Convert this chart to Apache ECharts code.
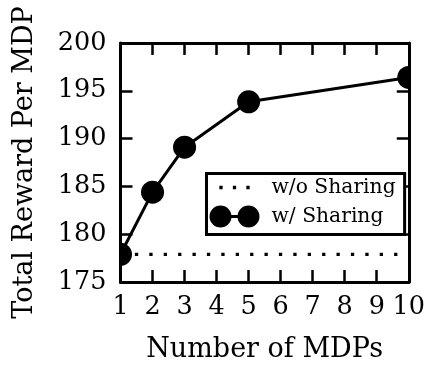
<!DOCTYPE html>
<html>
<head>
<meta charset="utf-8">
<script src="https://cdn.jsdelivr.net/npm/echarts@6/dist/echarts.min.js"></script>
<style>
html,body{margin:0;padding:0;background:#fff;}
#chart{width:428px;height:368px;}
</style>
</head>
<body>
<div id="chart"></div>
<script>
// ---- data ----
var mdpCounts = [1, 2, 3, 5, 10];
var withSharing = [177.9, 184.4, 189.1, 193.85, 196.4];
var baselineX = [1, 10];
var withoutSharing = [177.9, 177.9];
var xTicks = [1, 2, 3, 4, 5, 6, 7, 8, 9, 10];
var yTicks = [175, 180, 185, 190, 195, 200];
var seriesNames = ['w/o Sharing', 'w/ Sharing'];
var xTitle = 'Number of MDPs';
var yTitle = 'Total Reward Per MDP';

var FONT = 'DejaVu Serif';
var chart = echarts.init(document.getElementById('chart'), null, {renderer: 'canvas'});

function pairs(xs, ys) { return xs.map(function (x, i) { return [x, ys[i]]; }); }

var axisCommon = {
  type: 'value',
  z: 100,
  axisLine: {show: true, onZero: false, lineStyle: {color: '#000', width: 3}},
  axisTick: {show: true, inside: true, length: 12, lineStyle: {color: '#000', width: 2.5}},
  splitLine: {show: false}
};

var dotsIcon = 'path://M0,0 M57,22 M9.85,9.35h3.3v3.3h-3.3Z M23.35,9.35h3.3v3.3h-3.3Z M36.85,9.35h3.3v3.3h-3.3Z';
var circlesIcon = 'path://M0,0 M57,22 M0,11a11,11 0 1,1 22,0a11,11 0 1,1 -22,0Z M28,11a11,11 0 1,1 22,0a11,11 0 1,1 -22,0Z M11,9.5h28v3h-28Z';

chart.setOption({
  animation: false,
  backgroundColor: '#fff',
  grid: {left: 120.5, right: 16.7, top: 43, bottom: 83, containLabel: false},
  xAxis: [
    Object.assign({}, axisCommon, {
      position: 'bottom', min: xTicks[0], max: xTicks[xTicks.length - 1], interval: 1,
      axisLabel: {show: true, margin: 12, color: '#000', fontFamily: FONT, fontSize: 25.5, showMinLabel: true, showMaxLabel: true},
      name: xTitle, nameLocation: 'middle', nameGap: 54,
      nameTextStyle: {color: '#000', fontFamily: FONT, fontSize: 27}
    }),
    Object.assign({}, axisCommon, {
      position: 'top', min: xTicks[0], max: xTicks[xTicks.length - 1], interval: 1,
      axisLabel: {show: false}
    })
  ],
  yAxis: [
    Object.assign({}, axisCommon, {
      position: 'left', min: yTicks[0], max: yTicks[yTicks.length - 1], interval: 5,
      axisLabel: {show: true, margin: 14, color: '#000', fontFamily: FONT, fontSize: 25.5},
      name: yTitle, nameLocation: 'middle', nameGap: 82,
      nameTextStyle: {color: '#000', fontFamily: FONT, fontSize: 27}
    }),
    Object.assign({}, axisCommon, {
      position: 'right', min: yTicks[0], max: yTicks[yTicks.length - 1], interval: 5,
      axisLabel: {show: false}
    })
  ],
  legend: {
    orient: 'vertical',
    left: 206.5, top: 173.5,
    padding: [3, 9, 7, 3],
    itemGap: 7,
    itemWidth: 57, itemHeight: 22,
    selectedMode: false,
    backgroundColor: '#fff',
    borderColor: '#000', borderWidth: 3, borderRadius: 0,
    z: 200,
    itemStyle: {borderWidth: 0},
    textStyle: {color: '#000', fontFamily: FONT, fontSize: 20.3},
    data: [
      {name: seriesNames[0], icon: dotsIcon},
      {name: seriesNames[1], icon: circlesIcon}
    ]
  },
  graphic: {
    elements: [
      {type: 'rect', z: 50, silent: true, shape: {x: 107, y: 38, width: 13, height: 252}, style: {fill: '#fff'}},
      {type: 'rect', z: 50, silent: true, shape: {x: 411, y: 38, width: 17, height: 246}, style: {fill: '#fff'}}
    ]
  },
  series: [
    {
      name: seriesNames[0], type: 'line',
      data: pairs(baselineX, withoutSharing),
      symbol: 'none', color: '#000',
      lineStyle: {color: '#000', width: 3.3, type: [3.3, 11.1], cap: 'butt'},
      z: 2
    },
    {
      name: seriesNames[1], type: 'line',
      data: pairs(mdpCounts, withSharing),
      symbol: 'circle', symbolSize: 23, color: '#000',
      itemStyle: {color: '#000', borderWidth: 0},
      lineStyle: {color: '#000', width: 3},
      z: 3
    }
  ]
});
</script>
</body>
</html>
